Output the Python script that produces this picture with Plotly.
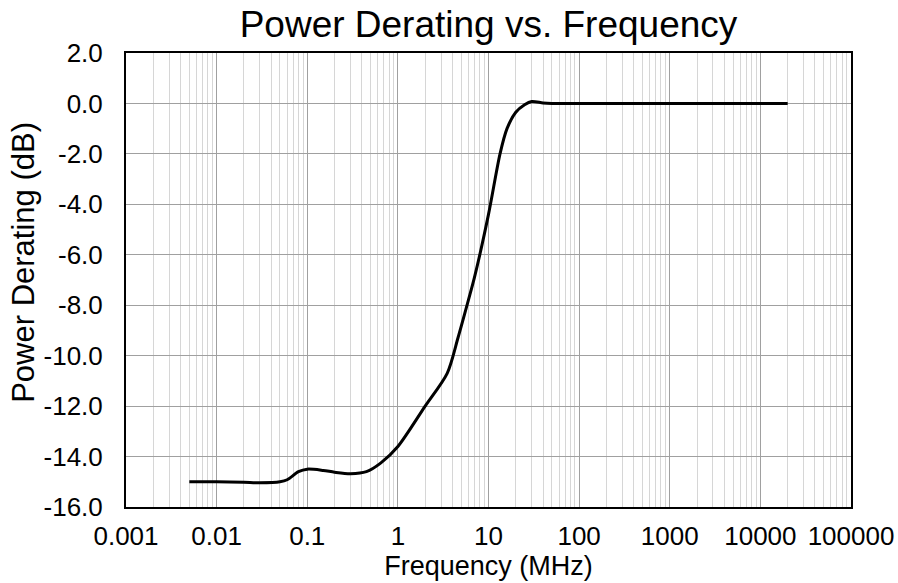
import plotly.graph_objects as go

# Data
freq_mhz = [0.005, 0.01, 0.02, 0.03, 0.05, 0.06, 0.08, 0.1, 0.15, 0.2, 0.3, 0.45,
            0.65, 1, 2, 3.5, 4.6, 6, 7, 10, 13.4, 16, 20, 25, 30, 40, 50, 100, 1000, 20000]
derating_db = [-15.0, -15.0, -15.02, -15.04, -15.0, -14.92, -14.6, -14.5, -14.55, -14.62, -14.68, -14.6,
               -14.25, -13.6, -12.0, -10.7, -9.3, -7.8, -6.9, -4.4, -2.0, -1.0, -0.35, -0.05, 0.08, 0.02, 0.0, 0.0, 0.0, 0.0]

x_tickvals = [0.001, 0.01, 0.1, 1, 10, 100, 1000, 10000, 100000]
x_ticktext = ["0.001", "0.01", "0.1", "1", "10", "100", "1000", "10000", "100000"]
y_tickvals = [2, 0, -2, -4, -6, -8, -10, -12, -14, -16]
y_ticktext = ["2.0", "0.0", "-2.0", "-4.0", "-6.0", "-8.0", "-10.0", "-12.0", "-14.0", "-16.0"]

FONT = "Liberation Sans, Arial, sans-serif"

fig = go.Figure()
fig.add_trace(go.Scatter(
    x=freq_mhz, y=derating_db, mode="lines",
    line=dict(color="black", width=3, shape="spline", smoothing=0.8),
    showlegend=False, hoverinfo="x+y",
))

fig.update_layout(
    width=898, height=583,
    margin=dict(l=126, r=47, t=53, b=76, autoexpand=False),
    paper_bgcolor="white", plot_bgcolor="white",
    font=dict(family=FONT, color="black", size=26),
    title=dict(text="Power Derating vs. Frequency", font=dict(family=FONT, size=37, color="black"),
               xref="paper", x=0.5, xanchor="center", yref="container", y=0.958, yanchor="middle"),
    annotations=[dict(text="Power Derating (dB)", textangle=-90, showarrow=False,
                      xref="paper", yref="paper", x=-0.1407, y=0.54,
                      xanchor="center", yanchor="middle",
                      font=dict(size=31, family=FONT, color="black"))],
)

fig.update_xaxes(
    type="log", range=[-3, 5], automargin=False,
    tickvals=x_tickvals, ticktext=x_ticktext,
    tickfont=dict(size=26, family=FONT, color="black"),
    ticks="outside", ticklen=5, tickcolor="rgba(0,0,0,0)",
    showgrid=True, gridcolor="#a0a0a0", gridwidth=1,
    minor=dict(showgrid=True, gridcolor="#d6d6d6", gridwidth=1, dtick="D1", ticks=""),
    showline=True, linecolor="black", linewidth=2, mirror=True,
    zeroline=False,
    title=dict(text="Frequency (MHz)", font=dict(size=27, family=FONT, color="black"), standoff=0),
)
fig.update_yaxes(
    range=[-16, 2], automargin=False,
    tickvals=y_tickvals, ticktext=y_ticktext,
    tickfont=dict(size=26, family=FONT, color="black"),
    ticks="outside", ticklen=16, tickcolor="rgba(0,0,0,0)",
    showgrid=True, gridcolor="#a0a0a0", gridwidth=1,
    showline=True, linecolor="black", linewidth=2, mirror=True,
    zeroline=False,
)

fig.write_html("out.html", config={"displayModeBar": False},
               post_script="document.body.style.margin='0';")
